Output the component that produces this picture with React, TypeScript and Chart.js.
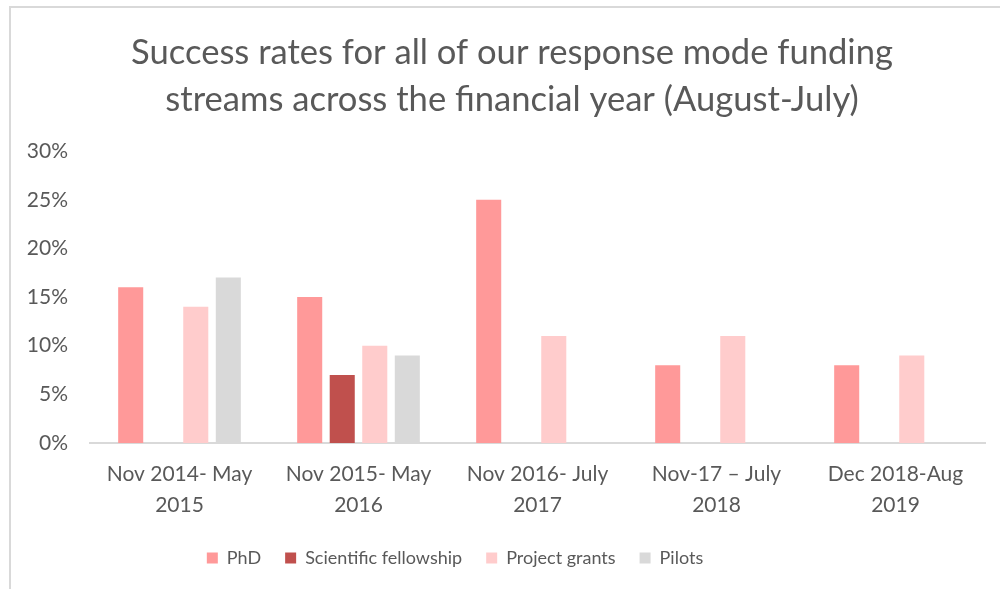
import React, { useEffect, useRef } from "react";
import { Chart, registerables } from "chart.js";

Chart.register(...registerables);

const categories: string[][] = [
  ["Nov 2014- May", "2015"],
  ["Nov 2015- May", "2016"],
  ["Nov 2016- July", "2017"],
  ["Nov-17 \u2013 July", "2018"],
  ["Dec 2018-Aug", "2019"],
];
const phd: (number | null)[] = [0.16, 0.15, 0.25, 0.08, 0.08];
const fellowship: (number | null)[] = [null, 0.07, null, null, null];
const projectGrants: (number | null)[] = [0.14, 0.1, 0.11, 0.11, 0.09];
const pilots: (number | null)[] = [0.17, 0.09, null, null, null];
const titleLines = [
  "Success rates for all of our response mode funding",
  "streams across the financial year (August-July)",
];

const FONT = "Lato, 'Open Sans', sans-serif";
const TEXT = "#595959";

const shiftPlugin = {
  id: "shiftBlocks",
  afterLayout(chart: any) {
    const lg = chart.legend;
    if (lg) {
      lg.left -= 51;
      lg.right -= 51;
    }
    const tb = chart.titleBlock;
    if (tb) {
      tb.left += 6;
      tb.right += 6;
    }
  },
};

export default function App() {
  const ref = useRef<HTMLCanvasElement>(null);
  useEffect(() => {
    if (!ref.current) return;
    const chart = new Chart(ref.current, {
      type: "bar",
      data: {
        labels: categories,
        datasets: [
          { label: "PhD", data: phd, backgroundColor: "#FF9999" },
          { label: "Scientific fellowship", data: fellowship, backgroundColor: "#C0504D" },
          { label: "Project grants", data: projectGrants, backgroundColor: "#FFCCCC" },
          { label: "Pilots", data: pilots, backgroundColor: "#D9D9D9" },
        ],
      },
      plugins: [shiftPlugin],
      options: {
        animation: false,
        responsive: false,
        maintainAspectRatio: false,
        datasets: { bar: { categoryPercentage: 0.727, barPercentage: 0.77 } },
        layout: { padding: { left: 27, right: 15, top: 29, bottom: 12 } },
        plugins: {
          title: {
            display: true,
            text: titleLines,
            color: TEXT,
            font: { family: FONT, size: 34.6, weight: "normal", lineHeight: 1.36 },
            padding: { top: 0, bottom: 28 },
          },
          legend: {
            position: "bottom",
            labels: {
              color: TEXT,
              font: { family: FONT, size: 18 },
              boxWidth: 11,
              boxHeight: 11,
              padding: 24,
            },
          },
          tooltip: { enabled: false },
        },
        scales: {
          x: {
            grid: { display: false, drawTicks: false },
            border: { display: true, color: "#D9D9D9", width: 2 },
            ticks: {
              color: TEXT,
              font: { family: FONT, size: 21, lineHeight: 1.5 },
              maxRotation: 0,
              padding: 15,
            },
            afterFit: (s: any) => {
              s.height = 82;
            },
          },
          y: {
            min: 0,
            max: 0.3,
            grid: { display: false, drawTicks: false },
            border: { display: false },
            ticks: {
              stepSize: 0.05,
              color: TEXT,
              font: { family: FONT, size: 21 },
              padding: 22,
              callback: (v: any) => Math.round(Number(v) * 100) + "%",
            },
            afterFit: (s: any) => {
              s.width = 63;
            },
          },
        },
      },
    });
    return () => chart.destroy();
  }, []);
  return (
    <div style={{ position: "fixed", left: 0, top: 0, width: 1000, height: 589, background: "#fff", overflow: "hidden" }}>
      <div
        style={{
          position: "absolute",
          left: 9,
          top: 6,
          width: 1010,
          height: 600,
          border: "2px solid #D9D9D9",
          boxSizing: "border-box",
        }}
      />
      <canvas ref={ref} width={1000} height={589} style={{ position: "absolute", left: 0, top: 0 }} />
    </div>
  );
}
